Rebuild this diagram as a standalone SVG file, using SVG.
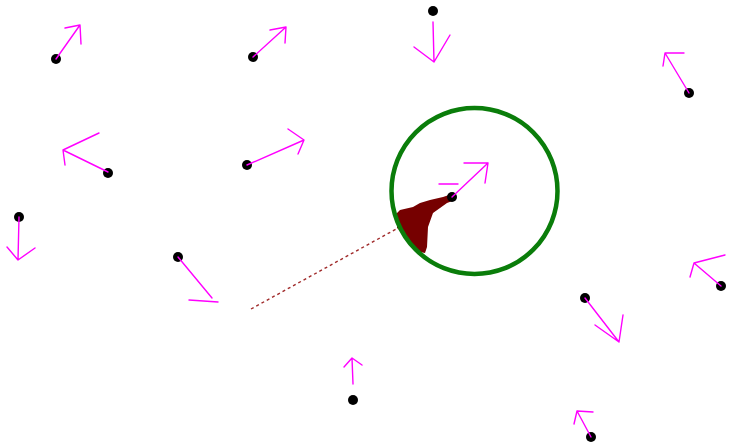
<svg xmlns="http://www.w3.org/2000/svg" width="731" height="446" viewBox="0 0 731 446">
<style>
.dot{fill:#000}
.vec{fill:none;stroke:#ff00ff;stroke-width:1.4;stroke-linecap:round;stroke-linejoin:round}
.trail{fill:none;stroke:#a02a2a;stroke-width:1.4;stroke-dasharray:3,3}
.ring{fill:none;stroke:#0a7d0a;stroke-width:4.5}
.blob{fill:#760000}
</style>
<rect width="731" height="446" fill="#fff"/>
<g id="connectors">
<path class="trail" d="M251,309 L398,228"/>
</g>
<g id="focus">
<path class="blob" d="M452,194 L443,197 L430,200 L420,203 L413,207 L400,210 L397,213 L397,228 L403,233 L413,247 L420,252 L425,253 L427,247 L428,227 L433,213 L447,203 L455,200 Z"/>
<circle class="ring" cx="474.5" cy="191" r="83"/>
</g>
<g id="p1"><circle class="dot" cx="56" cy="59" r="5"/><path class="vec" d="M56,59 L80,25 M65,28 L80,25 L81,44"/></g>
<g id="p2"><circle class="dot" cx="253" cy="57" r="5"/><path class="vec" d="M253,57 L286,27 M270,30 L286,27 L285,43"/></g>
<g id="p3"><circle class="dot" cx="433" cy="11" r="5"/><path class="vec" d="M433,22 L434,62 M414,47 L434,62 L450,35"/></g>
<g id="p4"><circle class="dot" cx="689" cy="93" r="5"/><path class="vec" d="M689,93 L665,53 M684,53 L665,53 L663,66"/></g>
<g id="p5"><circle class="dot" cx="108" cy="173" r="5"/><path class="vec" d="M108,172 L63,150 L99,133 M63,150 L65,165"/></g>
<g id="p6"><circle class="dot" cx="247" cy="165" r="5"/><path class="vec" d="M247,165 L304,140 M288,129 L304,140 L298,154"/></g>
<g id="p7"><circle class="dot" cx="452" cy="197" r="5"/><path class="vec" d="M452,197 L488,163 M464,163 L488,163 L485,183 M439,184 L458,184"/></g>
<g id="p8"><circle class="dot" cx="19" cy="217" r="5"/><path class="vec" d="M19,217 L18,260 M7,247 L18,260 L35,248"/></g>
<g id="p9"><circle class="dot" cx="178" cy="257" r="5"/><path class="vec" d="M178,257 L212,298 M189,300 L218,302"/></g>
<g id="p10"><circle class="dot" cx="585" cy="298" r="5"/><path class="vec" d="M585,298 L619,342 M595,325 L619,342 L623,315"/></g>
<g id="p11"><circle class="dot" cx="721" cy="286" r="5"/><path class="vec" d="M721,286 L694,263 M725,255 L694,263 L690,277"/></g>
<g id="p12"><circle class="dot" cx="353" cy="400" r="5"/><path class="vec" d="M353,384 L352,358 M344,367 L352,358 L362,365"/></g>
<g id="p13"><circle class="dot" cx="591" cy="437" r="5"/><path class="vec" d="M591,437 L577,411 M574,424 L577,411 L593,412"/></g>
</svg>
